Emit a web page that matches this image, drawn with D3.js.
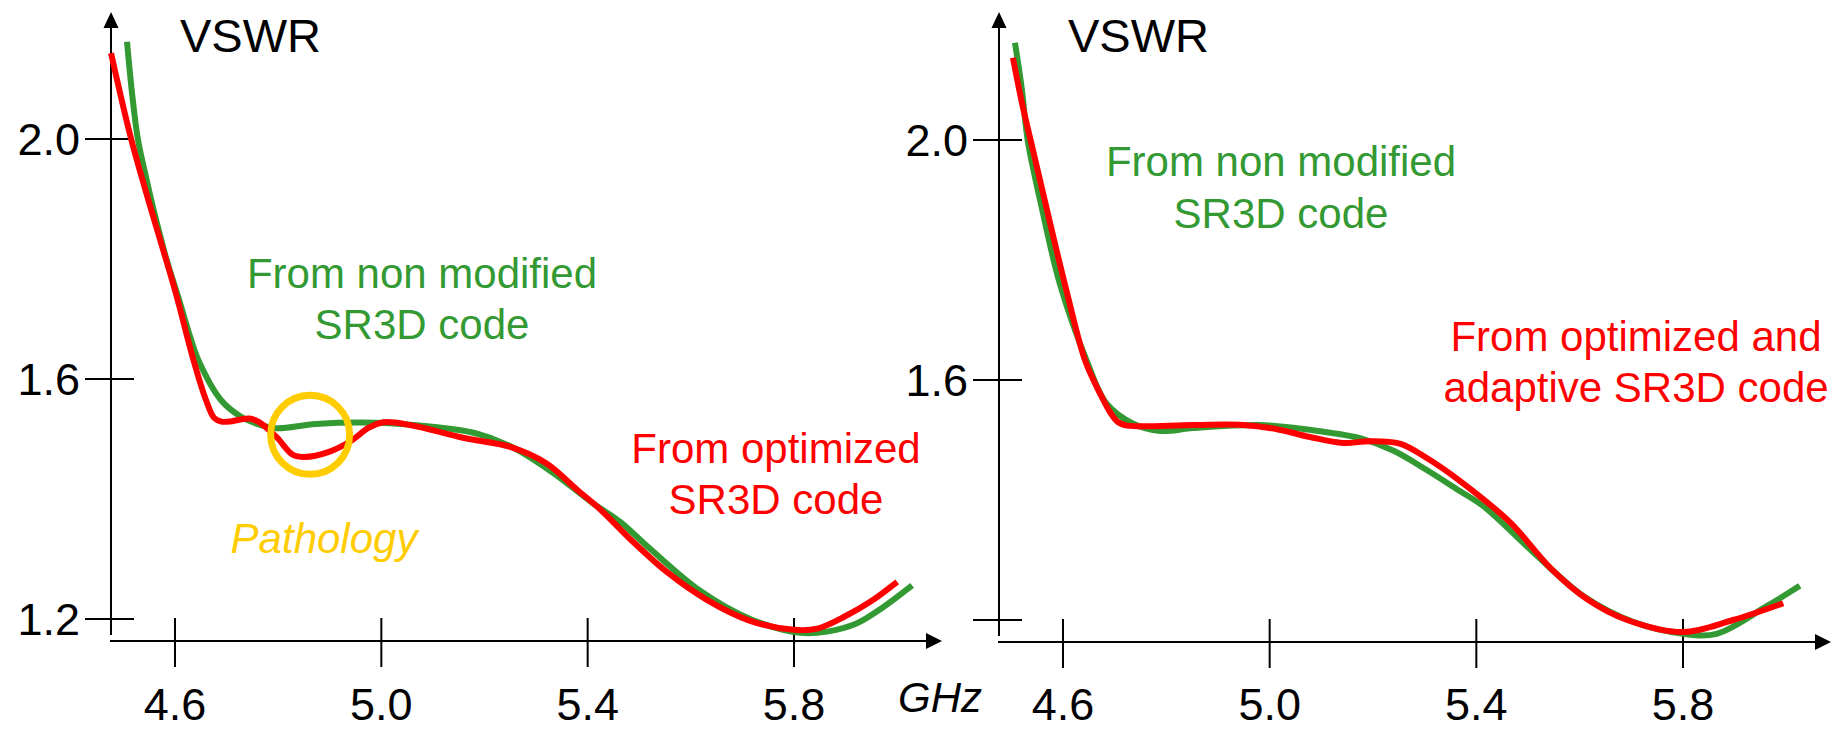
<!DOCTYPE html>
<html>
<head>
<meta charset="utf-8">
<script src="https://cdn.jsdelivr.net/npm/d3@7"></script>
<style>
  html, body { margin: 0; padding: 0; background: #ffffff; }
  svg { display: block; }
  text { font-family: "Liberation Sans", Arial, sans-serif; }
</style>
</head>
<body>
<svg id="chart" width="1845" height="730"></svg>
<script>
// ---------- DATA ----------
const xTicks = [4.6, 5.0, 5.4, 5.8];
const xTickLabels = ["4.6", "5.0", "5.4", "5.8"];
const yTicks = [1.2, 1.6, 2.0];
const yTickLabelsLeft = ["1.2", "1.6", "2.0"];
const yTickLabelsRight = ["", "1.6", "2.0"];

// Left panel: non modified (green) vs optimized (red)
const leftGreenFreq = [4.507, 4.516, 4.528, 4.545, 4.562, 4.584, 4.608, 4.627, 4.645, 4.689, 4.728, 4.760, 4.797, 4.873, 4.989, 5.104, 5.181, 5.257, 5.334, 5.410, 5.463, 5.521, 5.618, 5.715, 5.812, 5.864, 5.920, 5.970, 6.029];
const leftGreenVswr = [2.162, 2.082, 2.000, 1.932, 1.870, 1.798, 1.732, 1.677, 1.632, 1.565, 1.537, 1.525, 1.518, 1.525, 1.527, 1.520, 1.510, 1.485, 1.443, 1.393, 1.362, 1.317, 1.247, 1.200, 1.177, 1.179, 1.192, 1.218, 1.256];

const leftRedFreq = [4.476, 4.515, 4.558, 4.600, 4.637, 4.660, 4.676, 4.690, 4.705, 4.744, 4.763, 4.797, 4.828, 4.851, 4.897, 4.943, 4.974, 5.004, 5.058, 5.158, 5.250, 5.319, 5.380, 5.424, 5.490, 5.554, 5.631, 5.715, 5.800, 5.845, 5.900, 5.950, 6.000];
const leftRedVswr = [2.143, 2.000, 1.870, 1.748, 1.628, 1.565, 1.535, 1.529, 1.529, 1.534, 1.528, 1.503, 1.474, 1.470, 1.478, 1.498, 1.518, 1.528, 1.523, 1.502, 1.487, 1.460, 1.415, 1.383, 1.327, 1.278, 1.232, 1.197, 1.182, 1.184, 1.205, 1.230, 1.262];

// Right panel: non modified (green) vs optimized and adaptive (red)
const rightGreenFreq = [4.507, 4.520, 4.532, 4.559, 4.594, 4.646, 4.685, 4.736, 4.788, 4.852, 4.981, 5.110, 5.175, 5.240, 5.304, 5.368, 5.413, 5.510, 5.607, 5.703, 5.800, 5.865, 5.962, 6.026];
const rightGreenVswr = [2.162, 2.087, 1.998, 1.887, 1.760, 1.632, 1.560, 1.527, 1.515, 1.520, 1.525, 1.513, 1.503, 1.482, 1.450, 1.415, 1.390, 1.313, 1.240, 1.197, 1.177, 1.177, 1.223, 1.257];

const rightRedFreq = [4.503, 4.521, 4.540, 4.568, 4.607, 4.643, 4.672, 4.692, 4.706, 4.725, 4.852, 4.948, 5.014, 5.078, 5.142, 5.194, 5.252, 5.304, 5.368, 5.465, 5.543, 5.614, 5.692, 5.800, 5.897, 5.994];
const rightRedVswr = [2.137, 2.060, 1.990, 1.887, 1.748, 1.632, 1.577, 1.545, 1.530, 1.524, 1.525, 1.525, 1.518, 1.505, 1.495, 1.498, 1.494, 1.470, 1.432, 1.363, 1.287, 1.235, 1.200, 1.180, 1.200, 1.228];

// Annotation (pathology) centre in data units
const pathologyFreq = 4.862;
const pathologyVswr = 1.507;

// ---------- STYLE ----------
const GREEN = "#339933";
const RED = "#ff0000";
const YELLOW = "#ffcc00";

const svg = d3.select("#chart");

function zip(f, v) { return f.map((d, i) => ({ f: d, v: v[i] })); }

function drawPanel(cfg) {
  const x = d3.scaleLinear().domain([4.6, 5.8]).range(cfg.xRange);
  const y = d3.scaleLinear().domain([1.2, 2.0]).range(cfg.yRange);
  const g = svg.append("g");

  const ax = x(4.6) - 64;            // y-axis position
  const ay = y(1.2) + 22;            // x-axis position

  // y axis line + arrow
  g.append("line").attr("x1", ax).attr("x2", ax)
    .attr("y1", y(1.2) + 16).attr("y2", 26)
    .attr("stroke", "#000").attr("stroke-width", 2);
  g.append("path")
    .attr("d", `M${ax},12 L${ax - 7.5},28 L${ax + 7.5},28 Z`)
    .attr("fill", "#000");

  // x axis line + arrow
  const xEnd = x(5.8) + 148;
  g.append("line").attr("x1", ax - 1).attr("x2", xEnd - 14)
    .attr("y1", ay).attr("y2", ay)
    .attr("stroke", "#000").attr("stroke-width", 2);
  g.append("path")
    .attr("d", `M${xEnd},${ay} L${xEnd - 16},${ay - 8} L${xEnd - 16},${ay + 8} Z`)
    .attr("fill", "#000");

  // y ticks
  yTicks.forEach((t, i) => {
    g.append("line").attr("x1", ax - 26).attr("x2", ax + 23)
      .attr("y1", y(t)).attr("y2", y(t))
      .attr("stroke", "#000").attr("stroke-width", 2);
    const lab = cfg.yLabels[i];
    if (lab) {
      g.append("text").attr("x", ax - 31).attr("y", y(t) + 16)
        .attr("text-anchor", "end").attr("font-size", 45).attr("fill", "#000")
        .text(lab);
    }
  });

  // x ticks
  xTicks.forEach((t, i) => {
    g.append("line").attr("x1", x(t)).attr("x2", x(t))
      .attr("y1", ay - 23).attr("y2", ay + 26)
      .attr("stroke", "#000").attr("stroke-width", 2);
    g.append("text").attr("x", x(t)).attr("y", 720)
      .attr("text-anchor", "middle").attr("font-size", 45).attr("fill", "#000")
      .text(xTickLabels[i]);
  });

  // axis title
  g.append("text").attr("x", ax + 69).attr("y", 52)
    .attr("font-size", 47).attr("fill", "#000").text("VSWR");

  const line = d3.line()
    .x(d => x(d.f)).y(d => y(d.v))
    .curve(d3.curveCatmullRom.alpha(0.5));

  g.append("path").datum(zip(cfg.greenF, cfg.greenV))
    .attr("d", line).attr("fill", "none")
    .attr("stroke", GREEN).attr("stroke-width", 6);
  g.append("path").datum(zip(cfg.redF, cfg.redV))
    .attr("d", line).attr("fill", "none")
    .attr("stroke", RED).attr("stroke-width", 6);

  return { x, y, g, ax, ay };
}

// ---------- LEFT PANEL ----------
const L = drawPanel({
  xRange: [175, 794], yRange: [619, 139],
  yLabels: yTickLabelsLeft,
  greenF: leftGreenFreq, greenV: leftGreenVswr,
  redF: leftRedFreq, redV: leftRedVswr
});

L.g.append("circle")
  .attr("cx", L.x(pathologyFreq)).attr("cy", L.y(pathologyVswr))
  .attr("r", 39.5).attr("fill", "none")
  .attr("stroke", YELLOW).attr("stroke-width", 7);

L.g.append("text").attr("x", 324).attr("y", 553)
  .attr("text-anchor", "middle").attr("font-size", 42)
  .attr("font-style", "italic").attr("fill", YELLOW).text("Pathology");

L.g.append("text").attr("x", 940).attr("y", 712)
  .attr("text-anchor", "middle").attr("font-size", 42)
  .attr("font-style", "italic").attr("fill", "#000").text("GHz");

const lg = L.g.append("text").attr("text-anchor", "middle")
  .attr("font-size", 42).attr("fill", GREEN);
lg.append("tspan").attr("x", 422).attr("y", 288).text("From non modified");
lg.append("tspan").attr("x", 422).attr("y", 339).text("SR3D code");

const lr = L.g.append("text").attr("text-anchor", "middle")
  .attr("font-size", 42).attr("fill", RED);
lr.append("tspan").attr("x", 776).attr("y", 463).text("From optimized");
lr.append("tspan").attr("x", 776).attr("y", 514).text("SR3D code");

// ---------- RIGHT PANEL ----------
const R = drawPanel({
  xRange: [1063, 1683], yRange: [620, 140],
  yLabels: yTickLabelsRight,
  greenF: rightGreenFreq, greenV: rightGreenVswr,
  redF: rightRedFreq, redV: rightRedVswr
});

const rg = R.g.append("text").attr("text-anchor", "middle")
  .attr("font-size", 42).attr("fill", GREEN);
rg.append("tspan").attr("x", 1281).attr("y", 176).text("From non modified");
rg.append("tspan").attr("x", 1281).attr("y", 228).text("SR3D code");

const rr = R.g.append("text").attr("text-anchor", "middle")
  .attr("font-size", 42).attr("fill", RED);
rr.append("tspan").attr("x", 1636).attr("y", 351).text("From optimized and");
rr.append("tspan").attr("x", 1636).attr("y", 402).text("adaptive SR3D code");
</script>
</body>
</html>
